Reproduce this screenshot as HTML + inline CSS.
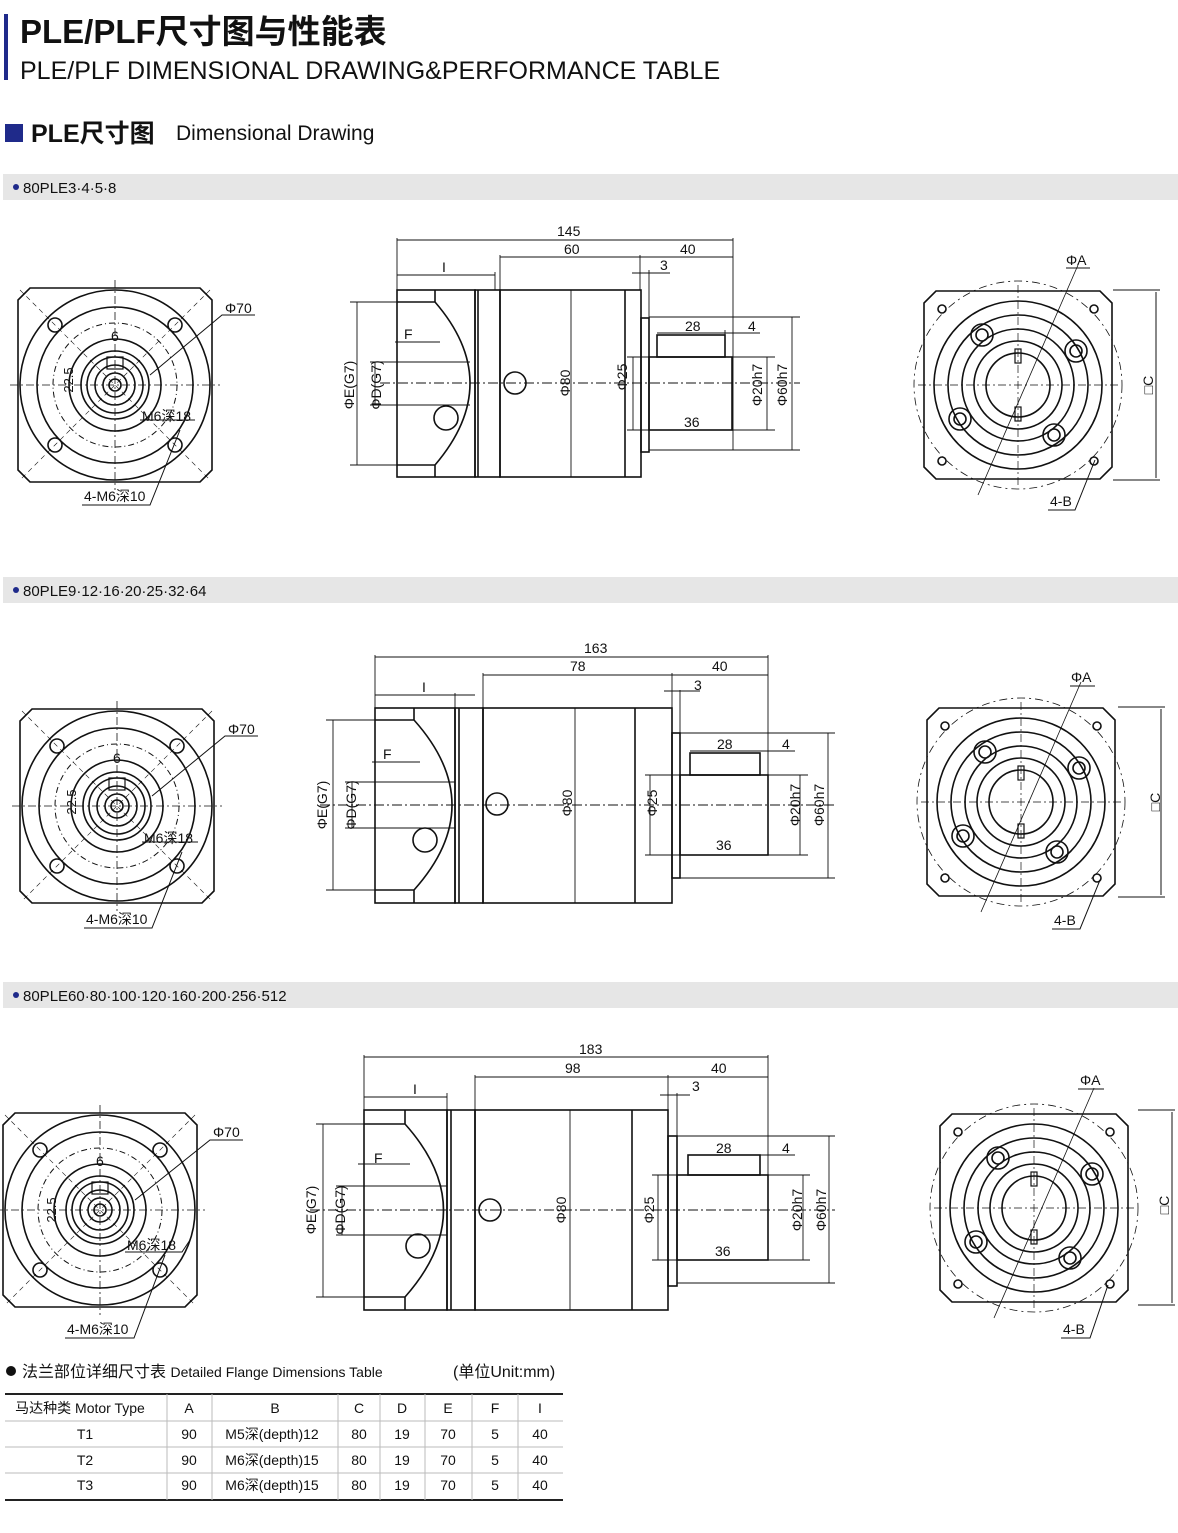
<!DOCTYPE html>
<html><head><meta charset="utf-8">
<style>
body{margin:0;width:1178px;height:1533px;background:#fff;overflow:hidden;font-family:"Liberation Sans","Noto Sans CJK SC",sans-serif;}
svg{position:absolute;left:0;top:0}
</style></head><body>
<svg width="1178" height="1533" viewBox="0 0 1178 1533" xmlns="http://www.w3.org/2000/svg" font-family="Liberation Sans, Noto Sans CJK SC, sans-serif">
<defs>
<g id="front" fill="none" stroke="#111" stroke-width="1.6">
  <path d="M-85,-97 L85,-97 L97,-85 L97,85 L85,97 L-85,97 L-97,85 L-97,-85 Z"/>
  <circle r="95"/><circle r="78"/><circle r="62" stroke-dasharray="6,3,1,3" stroke-width="1"/><circle r="46"/><circle r="34"/><circle r="28"/><circle r="20"/><circle r="12"/><circle r="6"/>
  <circle cx="-60" cy="-60" r="7"/><circle cx="60" cy="-60" r="7"/><circle cx="-60" cy="60" r="7"/><circle cx="60" cy="60" r="7"/>
  <path d="M-105,0 H105 M0,-105 V105" stroke-width="0.8" stroke-dasharray="8,3,2,3"/>
  <path d="M-95,-95 L95,95 M95,-95 L-95,95" stroke-width="0.6" stroke-dasharray="5,4"/>
  <rect x="-8" y="-28" width="16" height="12" stroke-width="1.2"/>
</g>
<g id="back" fill="none" stroke="#111" stroke-width="1.6">
  <path d="M-82,-94 L82,-94 L94,-82 L94,82 L82,94 L-82,94 L-94,82 L-94,-82 Z"/>
  <circle r="104" stroke-width="0.8" stroke-dasharray="8,4,2,4"/>
  <circle r="84"/><circle r="70"/><circle r="56"/><circle r="44"/><circle r="32"/>
  <circle cx="-36" cy="-50" r="11"/><circle cx="-36" cy="-50" r="6"/>
  <circle cx="58" cy="-34" r="11"/><circle cx="58" cy="-34" r="6"/>
  <circle cx="-58" cy="34" r="11"/><circle cx="-58" cy="34" r="6"/>
  <circle cx="36" cy="50" r="11"/><circle cx="36" cy="50" r="6"/>
  <circle cx="-76" cy="-76" r="4"/><circle cx="76" cy="-76" r="4"/><circle cx="-76" cy="76" r="4"/><circle cx="76" cy="76" r="4"/>
  <path d="M-100,0 H100 M0,-100 V100" stroke-width="0.7" stroke-dasharray="8,3,2,3"/>
  <rect x="-3" y="-36" width="6" height="14" stroke-width="1.2"/><rect x="-3" y="22" width="6" height="14" stroke-width="1.2"/>
  <path d="M-40,110 L60,-120" stroke-width="0.8"/>
</g>
</defs>

<!-- header -->
<rect x="4" y="14" width="4" height="66" fill="#1f2a8a"/>
<text x="20" y="43" font-size="33" font-weight="bold" fill="#111">PLE/PLF尺寸图与性能表</text>
<text x="20" y="79" font-size="25" fill="#111">PLE/PLF DIMENSIONAL DRAWING&amp;PERFORMANCE TABLE</text>
<rect x="5" y="124" width="18" height="18" fill="#1f2a8a"/>
<text x="31" y="142" font-size="25" font-weight="bold" fill="#111">PLE尺寸图</text>
<text x="176" y="140" font-size="21" fill="#111">Dimensional Drawing</text>

<rect x="3" y="174" width="1175" height="26" fill="#e6e6e6"/>
<circle cx="16" cy="187" r="3" fill="#1f2a8a"/><text x="23" y="193" font-size="15" fill="#111">80PLE3·4·5·8</text>
<rect x="3" y="577" width="1175" height="26" fill="#e6e6e6"/>
<circle cx="16" cy="590" r="3" fill="#1f2a8a"/><text x="23" y="596" font-size="15" fill="#111">80PLE9·12·16·20·25·32·64</text>
<rect x="3" y="982" width="1175" height="26" fill="#e6e6e6"/>
<circle cx="16" cy="995" r="3" fill="#1f2a8a"/><text x="23" y="1001" font-size="15" fill="#111">80PLE60·80·100·120·160·200·256·512</text>

<!-- front views -->
<use href="#front" x="115" y="385"/>
<use href="#front" x="117" y="806"/>
<use href="#front" x="100" y="1210"/>
<g font-size="14" fill="#111">
<text x="225" y="313">Φ70</text><text x="111" y="341">6</text><text x="142" y="421">M6深18</text><text x="84" y="501">4-M6深10</text>
<text transform="translate(73,380) rotate(-90)" text-anchor="middle" font-size="13">22.5</text>
<text x="228" y="734">Φ70</text><text x="113" y="763">6</text><text x="144" y="843">M6深18</text><text x="86" y="924">4-M6深10</text>
<text transform="translate(76,802) rotate(-90)" text-anchor="middle" font-size="13">22.5</text>
<text x="213" y="1137">Φ70</text><text x="96" y="1166">6</text><text x="127" y="1250">M6深18</text><text x="67" y="1334">4-M6深10</text>
<text transform="translate(56,1210) rotate(-90)" text-anchor="middle" font-size="13">22.5</text>
</g>
<g stroke="#111" stroke-width="1" fill="none">
<path d="M255,315 H222 L150,375 M140,420 H195 M82,505 H150 L180,430"/>
<path d="M258,736 H225 L152,796 M142,842 H198 M84,928 H152 L182,852"/>
<path d="M243,1140 H210 L135,1200 M125,1252 H182 L190,1240 M65,1338 H134 L165,1255"/>
</g>

<!-- back views -->
<use href="#back" x="1018" y="385"/>
<use href="#back" x="1021" y="802"/>
<use href="#back" x="1034" y="1208"/>
<g font-size="14" fill="#111">
<text x="1066" y="265">ΦA</text><text x="1050" y="506">4-B</text><text transform="translate(1153,385) rotate(-90)" text-anchor="middle">□C</text>
<text x="1071" y="682">ΦA</text><text x="1054" y="925">4-B</text><text transform="translate(1160,802) rotate(-90)" text-anchor="middle">□C</text>
<text x="1080" y="1085">ΦA</text><text x="1063" y="1334">4-B</text><text transform="translate(1169,1205) rotate(-90)" text-anchor="middle">□C</text>
</g>
<g stroke="#111" stroke-width="1" fill="none">
<path d="M1066,268 H1090 M1113,290 H1160 M1113,480 H1160 M1156,292 V478 M1048,510 H1075 L1095,460"/>
<path d="M1070,686 H1095 M1118,707 H1165 M1118,897 H1165 M1161,709 V895 M1052,929 H1080 L1100,880"/>
<path d="M1078,1089 H1104 M1138,1110 H1175 M1138,1305 H1175 M1172,1112 V1303 M1061,1338 H1090 L1108,1285"/>
</g>

<!-- side view 1 -->
<g stroke="#111" stroke-width="1.6" fill="none">
<rect x="397" y="290" width="78" height="187"/><rect x="475" y="290" width="25" height="187"/><line x1="478" y1="290" x2="478" y2="477"/>
<rect x="500" y="290" width="141" height="187"/><line x1="625" y1="290" x2="625" y2="477"/>
<path d="M397,302 H435 Q505,383 435,465 H397 M435,290 V302 M435,465 V477"/>
<circle cx="515" cy="383" r="11"/><circle cx="446" cy="418" r="12"/>
<rect x="641" y="318" width="8" height="134"/><rect x="649" y="357" width="83" height="73"/><rect x="657" y="335" width="68" height="22"/>
</g>
<g stroke="#111" stroke-width="0.9" fill="none">
<path d="M380,383 H800" stroke-dasharray="10,3,2,3"/>
<path d="M397,238 V290 M733,238 V450 M500,255 V290 M640,255 V290 M649,270 V318 M495,272 V290"/>
<path d="M397,240 H733 M500,257 H733 M632,273 H670 M397,275 H495"/>
<path d="M350,302 H397 M357,302 V465 M350,465 H397 M370,362 H470 M375,362 V405 M370,405 H470 M395,342 H440"/>
<path d="M571,290 V477 M633,357 V430 M627,357 H649 M627,430 H649 M767,357 V430 M732,357 H775 M732,430 H775 M792,317 V450 M649,317 H800 M649,450 H800"/>
<path d="M657,333 H760 M649,430 H733 M725,335 V330"/>
</g>
<g font-size="14" fill="#111">
<text x="557" y="236">145</text><text x="564" y="254">60</text><text x="680" y="254">40</text><text x="660" y="270">3</text><text x="442" y="272">I</text><text x="404" y="339">F</text>
<text x="685" y="331">28</text><text x="748" y="331">4</text><text x="684" y="427">36</text>
<g text-anchor="middle">
<text transform="translate(354,385) rotate(-90)">ΦE(G7)</text><text transform="translate(381,385) rotate(-90)">ΦD(G7)</text>
<text transform="translate(570,383) rotate(-90)">Φ80</text><text transform="translate(627,377) rotate(-90)">Φ25</text>
<text transform="translate(762,385) rotate(-90)">Φ20h7</text><text transform="translate(787,385) rotate(-90)">Φ60h7</text>
</g></g>

<!-- side view 2 -->
<g stroke="#111" stroke-width="1.6" fill="none">
<rect x="375" y="708" width="80" height="195"/><rect x="455" y="708" width="28" height="195"/><line x1="459" y1="708" x2="459" y2="903"/>
<rect x="483" y="708" width="189" height="195"/><line x1="635" y1="708" x2="635" y2="903"/>
<path d="M375,720 H414 Q490,805 414,890 H375 M414,708 V720 M414,890 V903"/>
<circle cx="497" cy="804" r="11"/><circle cx="425" cy="840" r="12"/>
<rect x="672" y="733" width="8" height="145"/><rect x="680" y="775" width="88" height="80"/><rect x="690" y="753" width="70" height="22"/>
</g>
<g stroke="#111" stroke-width="0.9" fill="none">
<path d="M320,805 H835" stroke-dasharray="10,3,2,3"/>
<path d="M375,655 V708 M768,655 V855 M483,673 V708 M672,673 V708 M680,690 V733 M455,693 V708"/>
<path d="M375,657 H768 M483,675 H768 M664,691 H700 M375,695 H475"/>
<path d="M326,720 H375 M333,720 V890 M326,890 H375 M345,782 H455 M352,782 V828 M345,828 H455 M372,762 H420"/>
<path d="M575,708 V903 M650,775 V855 M645,775 H680 M645,855 H680 M800,775 V855 M768,775 H808 M768,855 H808 M828,733 V878 M680,733 H835 M680,878 H835"/>
<path d="M690,751 H795 M680,855 H768"/>
</g>
<g font-size="14" fill="#111">
<text x="584" y="653">163</text><text x="570" y="671">78</text><text x="712" y="671">40</text><text x="694" y="690">3</text><text x="422" y="692">I</text><text x="383" y="759">F</text>
<text x="717" y="749">28</text><text x="782" y="749">4</text><text x="716" y="850">36</text>
<g text-anchor="middle">
<text transform="translate(327,805) rotate(-90)">ΦE(G7)</text><text transform="translate(356,805) rotate(-90)">ΦD(G7)</text>
<text transform="translate(572,803) rotate(-90)">Φ80</text><text transform="translate(657,803) rotate(-90)">Φ25</text>
<text transform="translate(800,805) rotate(-90)">Φ20h7</text><text transform="translate(824,805) rotate(-90)">Φ60h7</text>
</g></g>

<!-- side view 3 -->
<g stroke="#111" stroke-width="1.6" fill="none">
<rect x="364" y="1110" width="83" height="200"/><rect x="447" y="1110" width="28" height="200"/><line x1="451" y1="1110" x2="451" y2="1310"/>
<rect x="475" y="1110" width="193" height="200"/><line x1="632" y1="1110" x2="632" y2="1310"/>
<path d="M364,1124 H405 Q482,1210 405,1297 H364 M405,1110 V1124 M405,1297 V1310"/>
<circle cx="490" cy="1210" r="11"/><circle cx="418" cy="1246" r="12"/>
<rect x="668" y="1136" width="9" height="150"/><rect x="677" y="1175" width="91" height="85"/><rect x="688" y="1155" width="72" height="20"/>
</g>
<g stroke="#111" stroke-width="0.9" fill="none">
<path d="M310,1210 H835" stroke-dasharray="10,3,2,3"/>
<path d="M364,1055 V1110 M768,1055 V1260 M475,1075 V1110 M668,1075 V1110 M677,1093 V1136 M447,1093 V1110"/>
<path d="M364,1057 H768 M475,1077 H768 M660,1095 H690 M364,1097 H447"/>
<path d="M316,1124 H364 M323,1124 V1297 M316,1297 H364 M336,1186 H447 M342,1186 V1235 M336,1235 H447 M358,1164 H410"/>
<path d="M570,1110 V1310 M658,1175 V1260 M652,1175 H677 M652,1260 H677 M803,1175 V1260 M768,1175 H810 M768,1260 H810 M829,1136 V1283 M677,1136 H835 M677,1283 H835"/>
<path d="M688,1155 H795 M677,1260 H768"/>
</g>
<g font-size="14" fill="#111">
<text x="579" y="1054">183</text><text x="565" y="1073">98</text><text x="711" y="1073">40</text><text x="692" y="1091">3</text><text x="413" y="1094">I</text><text x="374" y="1163">F</text>
<text x="716" y="1153">28</text><text x="782" y="1153">4</text><text x="715" y="1256">36</text>
<g text-anchor="middle">
<text transform="translate(316,1210) rotate(-90)">ΦE(G7)</text><text transform="translate(345,1210) rotate(-90)">ΦD(G7)</text>
<text transform="translate(566,1210) rotate(-90)">Φ80</text><text transform="translate(654,1210) rotate(-90)">Φ25</text>
<text transform="translate(802,1210) rotate(-90)">Φ20h7</text><text transform="translate(826,1210) rotate(-90)">Φ60h7</text>
</g></g>

<!-- table -->
<circle cx="11" cy="1371" r="5" fill="#111"/>
<text x="22" y="1377" font-size="16" fill="#111">法兰部位详细尺寸表 <tspan font-size="14">Detailed Flange Dimensions Table</tspan></text>
<text x="453" y="1377" font-size="16" fill="#111">(单位Unit:mm)</text>
<g stroke="#222" fill="none">
<line x1="5" y1="1394" x2="563" y2="1394" stroke-width="2"/>
<line x1="5" y1="1500" x2="563" y2="1500" stroke-width="2"/>
<g stroke="#bbb" stroke-width="1">
<line x1="5" y1="1421" x2="563" y2="1421"/><line x1="5" y1="1447" x2="563" y2="1447"/><line x1="5" y1="1473" x2="563" y2="1473"/>
<path d="M167,1394 V1500 M212,1394 V1500 M338,1394 V1500 M380,1394 V1500 M425,1394 V1500 M472,1394 V1500 M518,1394 V1500"/>
</g></g>
<g font-size="14" fill="#111" text-anchor="middle">
<text x="80" y="1413">马达种类 Motor Type</text><text x="189" y="1413">A</text><text x="275" y="1413">B</text><text x="359" y="1413">C</text><text x="402" y="1413">D</text><text x="448" y="1413">E</text><text x="495" y="1413">F</text><text x="540" y="1413">I</text>
<text x="85" y="1439">T1</text><text x="189" y="1439">90</text><text x="272" y="1439">M5深(depth)12</text><text x="359" y="1439">80</text><text x="402" y="1439">19</text><text x="448" y="1439">70</text><text x="495" y="1439">5</text><text x="540" y="1439">40</text>
<text x="85" y="1465">T2</text><text x="189" y="1465">90</text><text x="272" y="1465">M6深(depth)15</text><text x="359" y="1465">80</text><text x="402" y="1465">19</text><text x="448" y="1465">70</text><text x="495" y="1465">5</text><text x="540" y="1465">40</text>
<text x="85" y="1490">T3</text><text x="189" y="1490">90</text><text x="272" y="1490">M6深(depth)15</text><text x="359" y="1490">80</text><text x="402" y="1490">19</text><text x="448" y="1490">70</text><text x="495" y="1490">5</text><text x="540" y="1490">40</text>
</g>
</svg>
</body></html>
